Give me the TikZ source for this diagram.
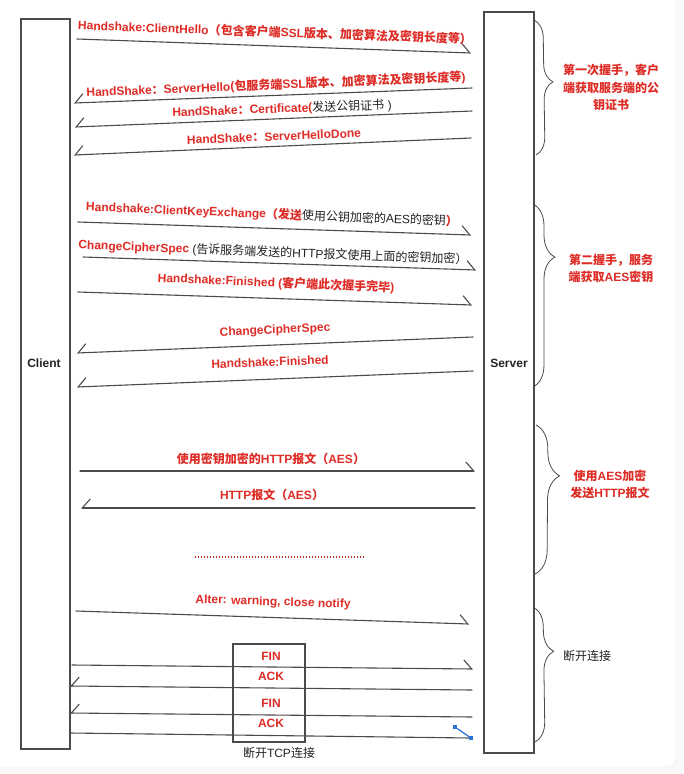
\documentclass[tikz,border=0pt]{standalone}
\usepackage{fontspec}
\setmainfont{Liberation Sans}
\newfontfamily\cjkfont{Noto Sans CJK SC}
\usepackage{tikz}
\usetikzlibrary{arrows.meta,decorations.pathreplacing}

\definecolor{hred}{RGB}{222,44,38}
\definecolor{ink}{RGB}{35,35,35}
\definecolor{wire}{RGB}{75,75,75}
\definecolor{pick}{RGB}{40,115,215}

% Chinese characters are set in the CJK font
\newcount\cjkcnt
\newXeTeXintercharclass\cjkclass
\def\setcjkrange#1#2{\cjkcnt=#1 \loop\XeTeXcharclass\cjkcnt=\cjkclass
  \ifnum\cjkcnt<#2 \advance\cjkcnt by 1 \repeat}
\setcjkrange{"3000}{"303F}
\setcjkrange{"4E00}{"9FFF}
\setcjkrange{"FF00}{"FF60}
\XeTeXinterchartoks 0 \cjkclass = {\cjkfont}
\XeTeXinterchartoks 4095 \cjkclass = {\cjkfont}
\XeTeXinterchartoks \cjkclass 0 = {\rmfamily}
\XeTeXinterchartoks \cjkclass 4095 = {\rmfamily}
\XeTeXinterchartokenstate=1

\newcommand{\blk}[1]{{\color{ink}\mdseries #1}}

\begin{document}
\begin{tikzpicture}
    [x=1pt, y=-1pt,
     wirel/.style={draw=wire, line width=1.1pt, line cap=round},
     fwd/.style={wirel, -{Straight Barb[left, length=8pt, width=18pt]}},
     bwd/.style={wirel, -{Straight Barb[right, length=8pt, width=18pt]}},
     lane/.style={draw=wire, line width=1.2pt, inner sep=0pt},
     msg/.style={text=hred, inner sep=0pt, font=\bfseries\fontsize{12}{14}\selectfont},
     note/.style={text=hred, inner sep=0pt, align=center, font=\bfseries\fontsize{12}{17.5}\selectfont},
     curly/.style={draw=wire, line width=0.8pt, decorate, decoration={brace}},
     hsq/.style={fill=pick, minimum size=4pt, inner sep=0pt}]
    \useasboundingbox (0,0) rectangle (683,774);
    \fill[gray!5] (0,0) rectangle (683,774);
    \begin{scope}
    \clip (0,0) rectangle (683,774);
    \filldraw[fill=white, draw=gray!20, rounded corners=8pt] (-10,-10) rectangle (676,767);
    \end{scope}

    \begin{scope}
    % the two parties
    \node[lane, minimum width=49pt, minimum height=730pt] (client) at (45.5,384) {};
    \node[lane, minimum width=50pt, minimum height=741pt] (server) at (509,382.5) {};
    \node[font=\bfseries\fontsize{12}{14}\selectfont, text=ink] (cl) at (44,363) {Client};
    \node[font=\bfseries\fontsize{12}{14}\selectfont, text=ink] (sv) at (509,363) {Server};

    % first handshake
    \coordinate (a1) at (77,39);   \coordinate (b1) at (471,53);
    \coordinate (a2) at (472,88);  \coordinate (b2) at (74,103);
    \coordinate (a3) at (472,111); \coordinate (b3) at (75,127);
    \coordinate (a4) at (471,138); \coordinate (b4) at (74,155);
    \draw[fwd] (a1) -- (b1);
    \draw[bwd] (a2) -- (b2);
    \draw[bwd] (a3) -- (b3);
    \draw[bwd] (a4) -- (b4);
    \node[msg, rotate=-2] (t1) at (275,32) {Handshake:ClientHello（包含客户端SSL版本、加密算法及密钥长度等）};
    \node[msg, rotate=2.4] (t2) at (276,85) {HandShake：ServerHello(包服务端SSL版本、加密算法及密钥长度等)};
    \node[msg, rotate=2] (t3) at (282,109) {HandShake：Certificate(\blk{发送公钥证书 )}};
    \node[msg, rotate=2.3] (t4) at (274,136.5) {HandShake：ServerHelloDone};

    % second handshake
    \coordinate (a5) at (78,222);  \coordinate (b5) at (471,235);
    \coordinate (a6) at (83,257);  \coordinate (b6) at (476,270);
    \coordinate (a7) at (78,292);  \coordinate (b7) at (472,305);
    \coordinate (a8) at (473,337); \coordinate (b8) at (77,353);
    \coordinate (a9) at (473,371); \coordinate (b9) at (77,387);
    \draw[fwd] (a5) -- (b5);
    \draw[fwd] (a6) -- (b6);
    \draw[fwd] (a7) -- (b7);
    \draw[bwd] (a8) -- (b8);
    \draw[bwd] (a9) -- (b9);
    \node[msg, rotate=-2.3] (t5) at (272,214.5) {Handshake:ClientKeyExchange（发送\blk{使用公钥加密的AES的密钥}）};
    \node[msg, rotate=-2.2] (t6) at (273,252.5) {ChangeCipherSpec \blk{(告诉服务端发送的HTTP报文使用上面的密钥加密）}};
    \node[msg, rotate=-2.4] (t7) at (276,283) {Handshake:Finished (客户端此次握手完毕)};
    \node[msg, rotate=2.6] (t8) at (275,330.5) {ChangeCipherSpec};
    \node[msg, rotate=2] (t9) at (270,362) {Handshake:Finished};

    % encrypted data
    \coordinate (a10) at (80,471);  \coordinate (b10) at (475,471);
    \coordinate (a11) at (475,508); \coordinate (b11) at (81,508);
    \draw[fwd] (a10) -- (b10);
    \draw[bwd] (a11) -- (b11);
    \node[msg] (t10) at (271,459) {使用密钥加密的HTTP报文（AES）};
    \node[msg] (t11) at (272,495) {HTTP报文（AES）};
    \coordinate (d1) at (195,557); \coordinate (d2) at (364,557);
    \draw[hred!90!black, line width=2pt, dash pattern=on 1.3pt off 1.7pt] (d1) -- (d2);

    % closing
    \coordinate (a12) at (76,611); \coordinate (b12) at (469,624);
    \draw[fwd] (a12) -- (b12);
    \node[msg, rotate=-1.9] (t12) at (273,602.5) {Alter: warning, close notify};
    \node[lane, minimum width=72pt, minimum height=98pt] (tcp) at (269,693) {};
    \coordinate (f1) at (72,665);  \coordinate (g1) at (473,669);
    \coordinate (f2) at (472,690); \coordinate (g2) at (70,686);
    \coordinate (f3) at (472,717); \coordinate (g3) at (70,713);
    \coordinate (f4) at (70,733);  \coordinate (g4) at (471,738);
    \draw[fwd] (f1) -- (g1);
    \draw[bwd] (f2) -- (g2);
    \draw[bwd] (f3) -- (g3);
    \draw[wirel] (f4) -- (g4);
    \node[hsq] (h1) at (455,727) {};
    \node[hsq] (h2) at (471,738) {};
    \draw[pick, line width=1.2pt] (h1) -- (h2);
    \node[msg] (fin1) at (271,656) {FIN};
    \node[msg] (ack1) at (271,676) {ACK};
    \node[msg] (fin2) at (271,703) {FIN};
    \node[msg] (ack2) at (271,723) {ACK};
    \node[text=ink, inner sep=0pt, font=\fontsize{12}{14}\selectfont] (tcplbl) at (279,753) {断开TCP连接};

    % braces on the right
    \coordinate (u1) at (534,20);  \coordinate (v1) at (536,155);
    \coordinate (u2) at (533,204); \coordinate (v2) at (533,387);
    \coordinate (u3) at (536,425); \coordinate (v3) at (535,574);
    \coordinate (u4) at (533,607); \coordinate (v4) at (535,742);
    \draw[curly, decoration={amplitude=18pt, aspect=0.46}] (u1) -- (v1);
    \draw[curly, decoration={amplitude=22pt, aspect=0.29}] (u2) -- (v2);
    \draw[curly, decoration={amplitude=24pt, aspect=0.34}] (u3) -- (v3);
    \draw[curly, decoration={amplitude=20pt, aspect=0.33}] (u4) -- (v4);
    \node[note] (n1) at (611,87.5) {第一次握手，客户\\端获取服务端的公\\钥证书};
    \node[note] (n2) at (611,268.5) {第二握手，服务\\端获取AES密钥};
    \node[note] (n3) at (610,484.5) {使用AES加密\\发送HTTP报文};
    \node[text=ink, inner sep=0pt, font=\fontsize{12}{14}\selectfont] (n4) at (587,656) {断开连接};
    \end{scope}
\end{tikzpicture}
\end{document}
